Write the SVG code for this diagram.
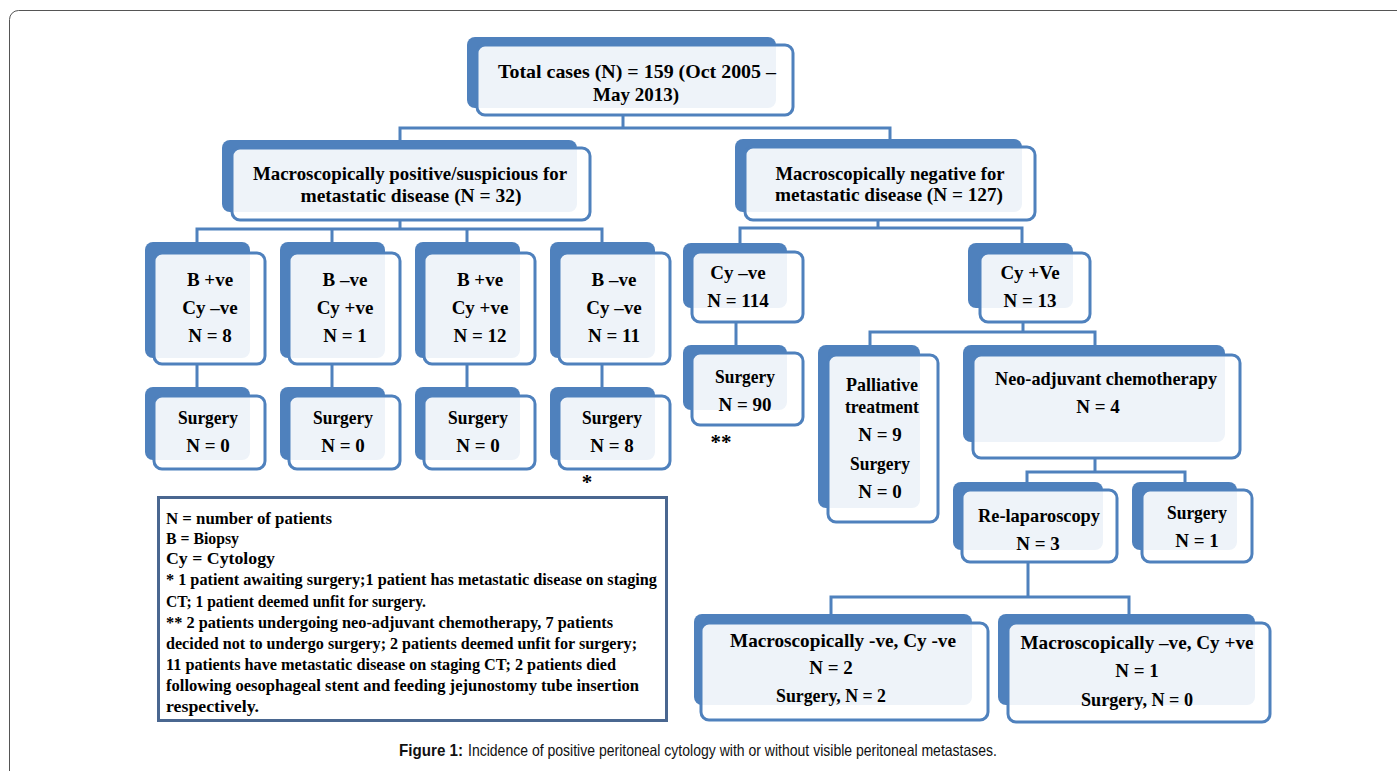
<svg xmlns="http://www.w3.org/2000/svg" width="1397" height="771" viewBox="0 0 1397 771">
<style>
.back{fill:#4f81bd}
.front{fill:#fff;fill-opacity:0.9;stroke:#4f81bd;stroke-width:3}
.t{font-family:"Liberation Serif","Times New Roman",serif;font-weight:bold;font-size:19px;text-anchor:middle;fill:#000}
.lg{font-family:"Liberation Serif","Times New Roman",serif;font-weight:bold;font-size:16.5px;fill:#000}
.conn{fill:none;stroke:#4f81bd;stroke-width:3}
.cap{font-family:"Liberation Sans",Arial,sans-serif;font-size:16.5px;fill:#111}
</style>
<rect width="1397" height="771" fill="#fff"/>
<rect x="9.5" y="10.5" width="1400" height="800" rx="9" fill="none" stroke="#555" stroke-width="1"/>

<g id="connectors" class="conn">
<path d="M623,115 V128 M400,140 V128 H890 V140"/>
<path d="M400,220 V229 M197,242 V229 H602 V242 M332,229 V242 M467,229 V242"/>
<path d="M197,364 V387 M332,364 V387 M467,364 V387 M602,364 V387"/>
<path d="M878,220 V228 M740,243 V228 H1022 V243"/>
<path d="M736,322 V345"/>
<path d="M1023,322 V332 M870,345 V332 H1095 V345"/>
<path d="M1095,458 V472 M1027,482 V472 H1185 V482"/>
<path d="M1028,562 V597 M831,614 V597 H1129 V614"/>
</g>

<g id="n-total">
<rect class="back" x="467" y="37" width="309" height="71" rx="8"/>
<rect class="front" x="477" y="45" width="316" height="70" rx="8"/>
<text class="t" x="637" y="78" textLength="278" lengthAdjust="spacingAndGlyphs">Total cases (N) = 159 (Oct 2005 –</text>
<text class="t" x="636" y="101">May 2013)</text>
</g>

<g id="n-macro-pos">
<rect class="back" x="222" y="140" width="355" height="72" rx="8"/>
<rect class="front" x="232" y="148" width="358" height="72" rx="8"/>
<text class="t" x="410" y="180" textLength="314" lengthAdjust="spacingAndGlyphs">Macroscopically positive/suspicious for</text>
<text class="t" x="411" y="202" textLength="221" lengthAdjust="spacingAndGlyphs">metastatic disease  (N = 32)</text>
</g>

<g id="n-macro-neg">
<rect class="back" x="735" y="139" width="287" height="73" rx="8"/>
<rect class="front" x="745" y="147" width="290" height="73" rx="8"/>
<text class="t" x="890" y="180" textLength="229" lengthAdjust="spacingAndGlyphs">Macroscopically negative for</text>
<text class="t" x="889" y="201" textLength="228" lengthAdjust="spacingAndGlyphs">metastatic disease (N = 127)</text>
</g>

<g id="n-b1">
<rect class="back" x="145" y="242" width="105" height="116" rx="8"/>
<rect class="front" x="154" y="253" width="111" height="111" rx="8"/>
<text class="t" x="210" y="286">B +ve</text>
<text class="t" x="210" y="314">Cy –ve</text>
<text class="t" x="210" y="342">N = 8</text>
</g>
<g id="n-b2">
<rect class="back" x="280" y="242" width="105" height="116" rx="8"/>
<rect class="front" x="289" y="253" width="111" height="111" rx="8"/>
<text class="t" x="345" y="286">B –ve</text>
<text class="t" x="345" y="314">Cy +ve</text>
<text class="t" x="345" y="342">N = 1</text>
</g>
<g id="n-b3">
<rect class="back" x="415" y="242" width="105" height="116" rx="8"/>
<rect class="front" x="424" y="253" width="111" height="111" rx="8"/>
<text class="t" x="480" y="286">B +ve</text>
<text class="t" x="480" y="314">Cy +ve</text>
<text class="t" x="480" y="342">N = 12</text>
</g>
<g id="n-b4">
<rect class="back" x="550" y="242" width="105" height="116" rx="8"/>
<rect class="front" x="559" y="253" width="111" height="111" rx="8"/>
<text class="t" x="614" y="286">B –ve</text>
<text class="t" x="614" y="314">Cy –ve</text>
<text class="t" x="614" y="342">N = 11</text>
</g>

<g id="n-s1">
<rect class="back" x="145" y="387" width="105" height="73" rx="8"/>
<rect class="front" x="154" y="396" width="111" height="73" rx="8"/>
<text class="t" x="208" y="424" textLength="60" lengthAdjust="spacingAndGlyphs">Surgery</text>
<text class="t" x="208" y="452">N = 0</text>
</g>
<g id="n-s2">
<rect class="back" x="280" y="387" width="105" height="73" rx="8"/>
<rect class="front" x="289" y="396" width="111" height="73" rx="8"/>
<text class="t" x="343" y="424" textLength="60" lengthAdjust="spacingAndGlyphs">Surgery</text>
<text class="t" x="343" y="452">N = 0</text>
</g>
<g id="n-s3">
<rect class="back" x="415" y="387" width="105" height="73" rx="8"/>
<rect class="front" x="424" y="396" width="111" height="73" rx="8"/>
<text class="t" x="478" y="424" textLength="60" lengthAdjust="spacingAndGlyphs">Surgery</text>
<text class="t" x="478" y="452">N = 0</text>
</g>
<g id="n-s4">
<rect class="back" x="550" y="387" width="105" height="73" rx="8"/>
<rect class="front" x="559" y="396" width="111" height="73" rx="8"/>
<text class="t" x="612" y="424" textLength="60" lengthAdjust="spacingAndGlyphs">Surgery</text>
<text class="t" x="612" y="452">N = 8</text>
</g>
<text id="mark1" class="t" x="587" y="489" style="font-size:21px">*</text>

<g id="n-cyneg">
<rect class="back" x="683" y="243" width="104" height="65" rx="8"/>
<rect class="front" x="692" y="252" width="111" height="70" rx="8"/>
<text class="t" x="738" y="279">Cy –ve</text>
<text class="t" x="738" y="307">N = 114</text>
</g>
<g id="n-surg90">
<rect class="back" x="683" y="345" width="104" height="65" rx="8"/>
<rect class="front" x="692" y="353" width="111" height="72" rx="8"/>
<text class="t" x="745" y="383" textLength="60" lengthAdjust="spacingAndGlyphs">Surgery</text>
<text class="t" x="745" y="411">N = 90</text>
</g>
<text id="mark2" class="t" x="721" y="449" style="font-size:21px">**</text>

<g id="n-cypos">
<rect class="back" x="968" y="243" width="105" height="65" rx="8"/>
<rect class="front" x="980" y="253" width="110" height="69" rx="8"/>
<text class="t" x="1030" y="279">Cy +Ve</text>
<text class="t" x="1030" y="307">N = 13</text>
</g>

<g id="n-palliative">
<rect class="back" x="818" y="345" width="102" height="163" rx="8"/>
<rect class="front" x="828" y="355" width="110" height="167" rx="8"/>
<text class="t" x="882" y="391" textLength="72" lengthAdjust="spacingAndGlyphs">Palliative</text>
<text class="t" x="882" y="413" textLength="74" lengthAdjust="spacingAndGlyphs">treatment</text>
<text class="t" x="880" y="441">N = 9</text>
<text class="t" x="880" y="470" textLength="60" lengthAdjust="spacingAndGlyphs">Surgery</text>
<text class="t" x="880" y="498">N = 0</text>
</g>

<g id="n-neo">
<rect class="back" x="963" y="345" width="262" height="97" rx="8"/>
<rect class="front" x="973" y="355" width="267" height="103" rx="8"/>
<text class="t" x="1106" y="385" textLength="222" lengthAdjust="spacingAndGlyphs">Neo-adjuvant chemotherapy</text>
<text class="t" x="1098" y="413">N = 4</text>
</g>

<g id="n-relap">
<rect class="back" x="953" y="482" width="150" height="68" rx="8"/>
<rect class="front" x="962" y="490" width="155" height="72" rx="8"/>
<text class="t" x="1039" y="522" textLength="122" lengthAdjust="spacingAndGlyphs">Re-laparoscopy</text>
<text class="t" x="1038" y="550">N = 3</text>
</g>

<g id="n-surg1">
<rect class="back" x="1132" y="482" width="105" height="68" rx="8"/>
<rect class="front" x="1142" y="490" width="110" height="72" rx="8"/>
<text class="t" x="1197" y="519" textLength="60" lengthAdjust="spacingAndGlyphs">Surgery</text>
<text class="t" x="1197" y="547">N = 1</text>
</g>

<g id="n-mneg-cyneg">
<rect class="back" x="694" y="614" width="278" height="91" rx="8"/>
<rect class="front" x="701" y="623" width="287" height="97" rx="8"/>
<text class="t" x="843" y="647" textLength="226" lengthAdjust="spacingAndGlyphs">Macroscopically -ve, Cy -ve</text>
<text class="t" x="831" y="674">N = 2</text>
<text class="t" x="831" y="702" textLength="110" lengthAdjust="spacingAndGlyphs">Surgery, N = 2</text>
</g>

<g id="n-mneg-cypos">
<rect class="back" x="998" y="614" width="257" height="91" rx="8"/>
<rect class="front" x="1008" y="623" width="262" height="99" rx="8"/>
<text class="t" x="1137" y="649" textLength="233" lengthAdjust="spacingAndGlyphs">Macroscopically –ve, Cy +ve</text>
<text class="t" x="1137" y="677">N = 1</text>
<text class="t" x="1137" y="706" textLength="112" lengthAdjust="spacingAndGlyphs">Surgery, N = 0</text>
</g>

<g id="legend">
<rect x="158.5" y="497.5" width="508" height="223" fill="#fff" stroke="#4a6790" stroke-width="3"/>
<text class="lg" x="166" y="524" textLength="166" lengthAdjust="spacingAndGlyphs">N = number of patients</text>
<text class="lg" x="166" y="544" textLength="73" lengthAdjust="spacingAndGlyphs">B = Biopsy</text>
<text class="lg" x="166" y="564" textLength="109" lengthAdjust="spacingAndGlyphs">Cy = Cytology</text>
<text class="lg" x="166" y="585" textLength="491" lengthAdjust="spacingAndGlyphs">* 1 patient awaiting surgery;1 patient has metastatic disease on staging</text>
<text class="lg" x="166" y="607" textLength="260" lengthAdjust="spacingAndGlyphs">CT; 1 patient deemed unfit for surgery.</text>
<text class="lg" x="166" y="628" textLength="447" lengthAdjust="spacingAndGlyphs">** 2 patients undergoing neo-adjuvant chemotherapy, 7 patients</text>
<text class="lg" x="166" y="649" textLength="471" lengthAdjust="spacingAndGlyphs">decided not to undergo surgery; 2 patients deemed unfit for surgery;</text>
<text class="lg" x="166" y="670" textLength="450" lengthAdjust="spacingAndGlyphs">11 patients have metastatic disease on staging CT; 2 patients died</text>
<text class="lg" x="166" y="691" textLength="473" lengthAdjust="spacingAndGlyphs">following oesophageal stent and  feeding jejunostomy tube insertion</text>
<text class="lg" x="166" y="712" textLength="93" lengthAdjust="spacingAndGlyphs">respectively.</text>
</g>

<g id="caption">
<text class="cap" x="399" y="756" font-weight="bold" textLength="64" lengthAdjust="spacingAndGlyphs">Figure 1:</text>
<text class="cap" x="468" y="756" textLength="529" lengthAdjust="spacingAndGlyphs">Incidence of positive peritoneal cytology with or without visible peritoneal metastases.</text>
</g>
</svg>
